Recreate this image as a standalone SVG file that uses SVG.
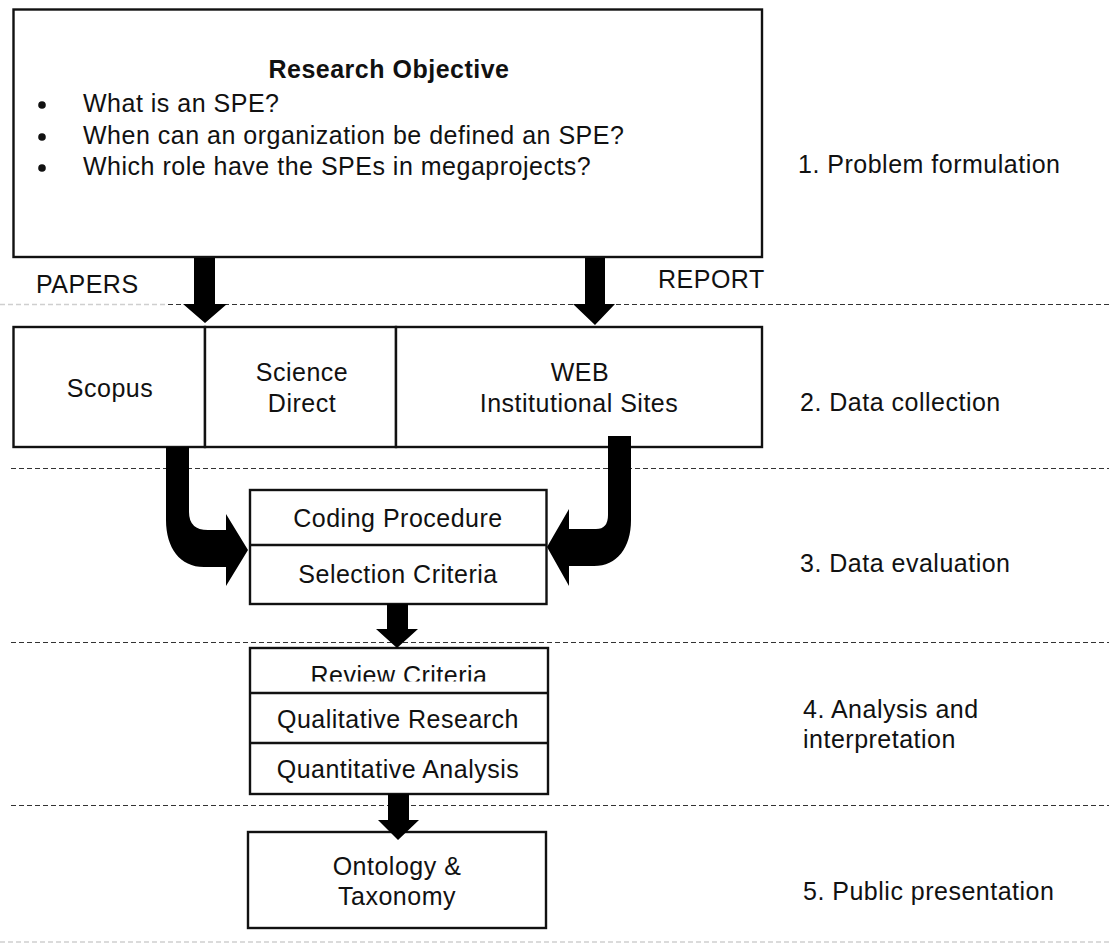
<svg xmlns="http://www.w3.org/2000/svg" width="1109" height="943" viewBox="0 0 1109 943">
<defs>
<style>
text{font-family:"Liberation Sans",Arial,Helvetica,sans-serif;font-size:25px;fill:#111;letter-spacing:0.5px}
.c{text-anchor:middle}
.b{font-weight:bold}
.box{fill:#fff;stroke:#111;stroke-width:2.4}
.dash{stroke:#333;stroke-width:1.1;stroke-dasharray:5 3;fill:none}
.lite{stroke:#cfcfcf;stroke-width:1.3;stroke-dasharray:5 3;fill:none}
.arr{fill:#000;stroke:none}
</style>
<clipPath id="clipReview"><rect x="250" y="648" width="298" height="33.5"/></clipPath>
</defs>
<rect width="1109" height="943" fill="#fff"/>

<g id="separators">
<line class="lite" x1="0" y1="304.5" x2="168" y2="304.5"/>
<line class="dash" x1="168" y1="304.5" x2="1109" y2="304.5"/>
<line class="dash" x1="11" y1="468.5" x2="1109" y2="468.5"/>
<line class="dash" x1="11" y1="642.5" x2="1109" y2="642.5"/>
<line class="dash" x1="11" y1="805.5" x2="1109" y2="805.5"/>
<line class="lite" x1="0" y1="942" x2="1109" y2="942"/>
</g>

<g id="objective">
<rect class="box" x="13.5" y="9.5" width="748.5" height="247.5"/>
<text class="c b" x="389" y="78">Research Objective</text>
<circle cx="42" cy="105" r="3.8" fill="#111"/>
<circle cx="42" cy="137" r="3.8" fill="#111"/>
<circle cx="42" cy="168" r="3.8" fill="#111"/>
<text x="83" y="112">What is an SPE?</text>
<text x="83" y="144">When can an organization be defined an SPE?</text>
<text x="83" y="175">Which role have the SPEs in megaprojects?</text>
</g>

<g id="labels">
<text x="36" y="293">PAPERS</text>
<text x="658" y="288">REPORT</text>
<text x="798" y="173">1. Problem formulation</text>
<text x="800" y="411">2. Data collection</text>
<text x="800" y="572">3. Data evaluation</text>
<text x="803" y="718">4. Analysis and</text>
<text x="803" y="748">interpretation</text>
<text x="803" y="900">5. Public presentation</text>
</g>

<g id="scopus">
<rect class="box" x="13.5" y="327" width="191.5" height="120"/>
<text class="c" x="110" y="397">Scopus</text>
</g>
<g id="sciencedirect">
<rect class="box" x="205" y="327" width="191" height="120"/>
<text class="c" x="302" y="381">Science</text>
<text class="c" x="302" y="412">Direct</text>
</g>
<g id="web">
<rect class="box" x="396" y="327" width="366" height="120"/>
<text class="c" x="580" y="381">WEB</text>
<text class="c" x="579" y="412">Institutional Sites</text>
</g>

<g id="evaluation">
<rect class="box" x="250" y="490" width="296.5" height="114"/>
<line x1="250" y1="545" x2="546.5" y2="545" stroke="#111" stroke-width="2.4"/>
<text class="c" x="398" y="527">Coding Procedure</text>
<text class="c" x="398" y="583">Selection Criteria</text>
</g>

<g id="analysis">
<rect class="box" x="250" y="648" width="298" height="146"/>
<line x1="250" y1="693" x2="548" y2="693" stroke="#111" stroke-width="2.4"/>
<line x1="250" y1="743" x2="548" y2="743" stroke="#111" stroke-width="2.4"/>
<text class="c" x="399" y="684" clip-path="url(#clipReview)">Review Criteria</text>
<text class="c" x="398" y="728">Qualitative Research</text>
<text class="c" x="398" y="778">Quantitative Analysis</text>
</g>

<g id="ontology">
<rect class="box" x="248" y="832" width="298" height="96"/>
<text class="c" x="397" y="875">Ontology &amp;</text>
<text class="c" x="397" y="905">Taxonomy</text>
</g>

<g id="connectors">
<path class="arr" d="M194,258 H215 V304 H227 L205,323 L183,304 H194 Z"/>
<path class="arr" d="M585,258 H605 V304 H615 L595,325 L573,304 H585 Z"/>
<path class="arr" d="M166,447 H189 V512 Q189,530 208,530 H226 V514 L248,550 L226,586 V567 H204 C180,567 166,548 166,520 Z"/>
<path class="arr" d="M608,436 H631 V520 C631,548 617,566 594,566 H569 V586 L547,547 L569,509 V529 H596 Q608,529 608,515 Z"/>
<path class="arr" d="M387,604 H408 V629 H418 L397,648 L376,629 H387 Z"/>
<path class="arr" d="M388,794 H409 V820 H419 L398,840 L378,820 H388 Z"/>
</g>
</svg>
